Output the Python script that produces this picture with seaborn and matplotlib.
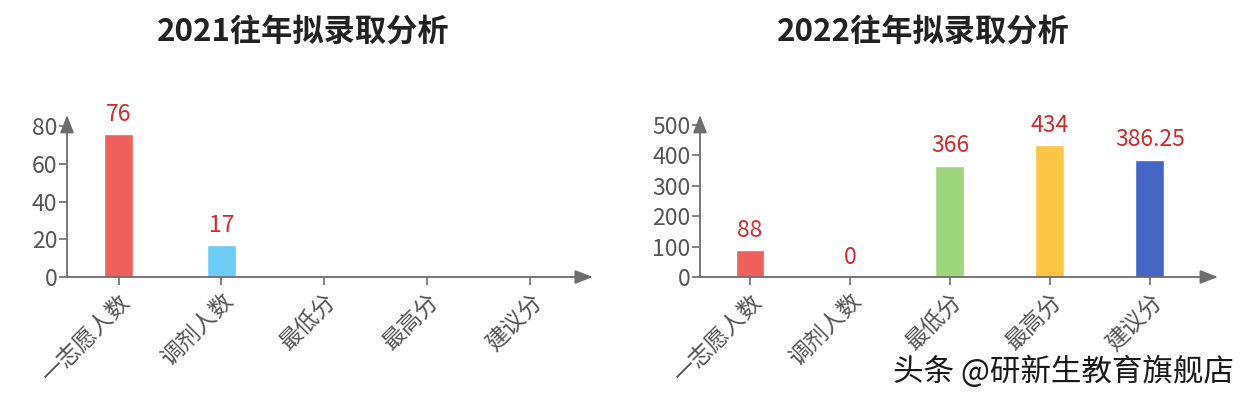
import numpy as np
import pandas as pd
import matplotlib
matplotlib.use('Agg')
import matplotlib.pyplot as plt
import seaborn as sns

# data
categories = ['一志愿人数', '调剂人数', '最低分', '最高分', '建议分']
values_2021 = [76, 17, np.nan, np.nan, np.nan]
values_2022 = [88, 0, 366, 434, 386.25]
titles = ['2021往年拟录取分析', '2022往年拟录取分析']
yticks_2021 = [0, 20, 40, 60, 80]
yticks_2022 = [0, 100, 200, 300, 400, 500]
colors = ['#ef5f5b', '#6ecdf4', '#9dd67c', '#fdc545', '#4467c5']

sns.set_theme(style='white')
plt.rcParams['font.family'] = ['Noto Sans CJK SC', 'DejaVu Sans']

AXIS_C = '#6d6d6d'
TEXT_C = '#555555'
LABEL_C = '#d42a2f'

fig = plt.figure(figsize=(12.46, 4), dpi=100)


def draw_panel(rect, values, yticks, ymax, xmax, fmt):
    ax = fig.add_axes(rect)
    df = pd.DataFrame({'cat': categories, 'val': values}).dropna()
    pal = dict(zip(categories, colors))
    sns.barplot(data=df, x='cat', y='val', hue='cat', order=categories,
                hue_order=categories, palette=pal, width=0.29,
                saturation=1, legend=False, ax=ax)
    for cont in ax.containers:
        ax.bar_label(cont, labels=[fmt(v) for v in cont.datavalues],
                     padding=6, color=LABEL_C, fontsize=16.5)
    ax.set_xlim(-0.5, xmax)
    ax.set_ylim(0, ymax)
    ax.set_yticks(yticks)
    ax.set_xticks(range(len(categories)))
    ax.set_xticklabels(categories, rotation=45, ha='right',
                       rotation_mode='anchor')
    ax.set_xlabel('')
    ax.set_ylabel('')
    for s in ax.spines.values():
        s.set_visible(False)
    ax.tick_params(axis='both', colors=AXIS_C, length=6, width=1.2,
                   labelcolor=TEXT_C, labelsize=16.5, bottom=True, left=True)
    ax.tick_params(axis='y', pad=1)
    ax.tick_params(axis='x', pad=3)
    # axis lines with arrow heads
    arrow = dict(arrowstyle='-|>,head_length=0.9,head_width=0.35',
                 color=AXIS_C, lw=1.3, shrinkA=0, shrinkB=0)
    ax.annotate('', xy=(1, 0), xytext=(0, 0), xycoords='axes fraction',
                arrowprops=arrow, annotation_clip=False)
    ax.annotate('', xy=(0, 1), xytext=(0, 0), xycoords='axes fraction',
                arrowprops=arrow, annotation_clip=False)
    return ax


def fmt_num(v):
    if float(v).is_integer():
        return str(int(v))
    return f'{v:g}'


draw_panel([0.0538, 0.3075, 0.422, 0.405], values_2021, yticks_2021,
           86, 4.607, fmt_num)
draw_panel([0.5618, 0.3075, 0.4157, 0.405], values_2022, yticks_2022,
           533, 4.68, fmt_num)

fig.text(0.243, 0.92, titles[0], ha='center', va='center', fontsize=22.5,
         fontweight='bold', color='#222222')
fig.text(0.741, 0.92, titles[1], ha='center', va='center', fontsize=22.5,
         fontweight='bold', color='#222222')

fig.text(0.99, 0.07, '头条 @研新生教育旗舰店', ha='right', va='center',
         fontsize=22, color='#1a1a1a')

fig.savefig('out.png', dpi=100, facecolor='white')
